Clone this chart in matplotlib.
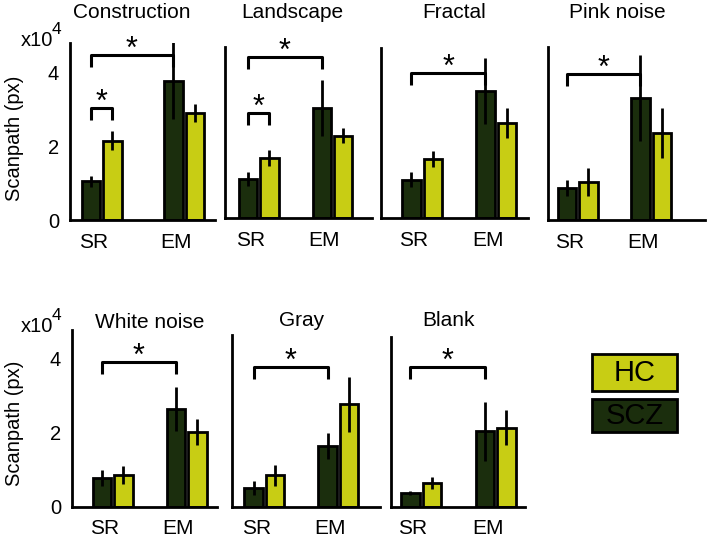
import matplotlib
matplotlib.use('Agg')
import matplotlib.pyplot as plt
from matplotlib.patches import Rectangle

plt.rcParams['font.family'] = ['Liberation Sans', 'DejaVu Sans']

W, H = 708, 538

# ---------------- data (units: x10^4 px) ----------------
titles = ['Construction', 'Landscape', 'Fractal', 'Pink noise',
          'White noise', 'Gray', 'Blank']
groups = ['SR', 'EM']
series = ['HC', 'SCZ']
scz_mean = [[1.05, 3.76], [1.05, 2.97], [1.03, 3.43], [0.86, 3.30],
            [0.78, 2.65], [0.51, 1.65], [0.38, 2.05]]
scz_err = [[0.15, 1.04], [0.18, 0.76], [0.20, 0.90], [0.22, 1.16],
           [0.22, 0.60], [0.18, 0.34], [0.06, 0.80]]
hc_mean = [[2.14, 2.89], [1.62, 2.22], [1.59, 2.57], [1.03, 2.35],
           [0.86, 2.03], [0.86, 2.78], [0.65, 2.14]]
hc_err = [[0.26, 0.24], [0.22, 0.20], [0.22, 0.40], [0.38, 0.68],
          [0.24, 0.36], [0.28, 0.74], [0.16, 0.47]]
# significance brackets: (type, level)  'group' = SR vs EM, 'pair' = SCZ vs HC in SR
sig = [[('group', 4.46), ('pair', 3.03)],
       [('group', 4.35), ('pair', 2.84)],
       [('group', 3.92)], [('group', 3.95)],
       [('group', 3.92)], [('group', 3.78)], [('group', 3.78)]]
yticks = [0, 2, 4]

C_SCZ = '#1b2e0d'
C_HC = '#c8cd14'

# ---------------- layout (pixels) ----------------
# left, top, right, baseline, SR centre px, EM centre px
layout = [(70, 43, 215, 220, 101.5, 184),
          (225, 47, 372, 218, 258.5, 332.5),
          (381, 48, 528, 218, 422, 496),
          (548, 47, 705, 220, 577.5, 651),
          (72, 330, 217, 507, 112.5, 186.5),
          (232, 335, 380, 507, 264.5, 338.5),
          (391, 337, 525, 507, 421, 495.5)]
title_pos = [(132, 12), (292, 12), (454, 12), (617, 12),
             (150, 322), (302, 321), (449, 321)]
YPX = 37.0     # pixels per 1e4
BAR_PX = 18.5
OFF_PX = 10.75
LBL_SHIFT = 8
LW = 2.0

fig = plt.figure(figsize=(W / 100, H / 100), dpi=100)


def box(l, t, r, b):
    return [l / W, 1 - b / H, (r - l) / W, (b - t) / H]


for i in range(7):
    l, t, r, b, srp, emp = layout[i]
    ax = fig.add_axes(box(l, t, r, b))
    ppu = emp - srp
    off = OFF_PX / ppu
    wid = BAR_PX / ppu
    xs = [0, 1]
    scz_x = [x - off for x in xs]
    hc_x = [x + off for x in xs]
    ax.bar(scz_x, scz_mean[i], width=wid, color=C_SCZ, edgecolor='black',
           linewidth=LW, zorder=2)
    ax.bar(hc_x, hc_mean[i], width=wid, color=C_HC, edgecolor='black',
           linewidth=LW, zorder=2)
    ax.errorbar(scz_x, scz_mean[i], yerr=scz_err[i], fmt='none',
                ecolor='black', elinewidth=LW, capsize=0, zorder=3)
    ax.errorbar(hc_x, hc_mean[i], yerr=hc_err[i], fmt='none',
                ecolor='black', elinewidth=LW, capsize=0, zorder=3)
    ax.set_xlim(-(srp - l) / ppu, (r - srp) / ppu)
    ax.set_ylim(0, (b - t) / YPX)
    for s in ['top', 'right']:
        ax.spines[s].set_visible(False)
    for s in ['left', 'bottom']:
        ax.spines[s].set_linewidth(LW)
    ax.set_xticks([x - LBL_SHIFT / ppu for x in xs])
    ax.set_xticklabels(groups, fontsize=15)
    ax.tick_params(axis='x', length=0, pad=9)
    if i in (0, 4):
        ax.set_yticks(yticks)
        ax.set_yticklabels([str(v) for v in yticks], fontsize=14.5)
        ax.tick_params(axis='y', length=0, pad=8)
    else:
        ax.set_yticks([])
    leg = 0.32
    for kind, lev in sig[i]:
        if kind == 'group':
            x0, x1 = scz_x[0], scz_x[1]
        else:
            x0, x1 = scz_x[0], hc_x[0]
        ax.plot([x0, x0, x1, x1], [lev - leg, lev, lev, lev - leg],
                color='black', lw=2.2, clip_on=False, zorder=4,
                solid_capstyle='butt')
        ax.text((x0 + x1) / 2, lev - 0.27, '*', ha='center', va='bottom',
                fontsize=22, clip_on=False)
    tx, ty = title_pos[i]
    fig.text(tx / W, 1 - ty / H, titles[i], ha='center', va='center',
             fontsize=15)

# y labels and multipliers
for yc, my in [(138, 41), (423, 327)]:
    fig.text(14 / W, 1 - yc / H, 'Scanpath (px)', rotation=90,
             ha='center', va='center', fontsize=14.5)
    fig.text(21 / W, 1 - my / H, 'x10', ha='left', va='center', fontsize=14.5)
    fig.text(52 / W, 1 - (my - 11) / H, '4', ha='left', va='center', fontsize=12.5)

# legend
lax = fig.add_axes(box(585, 345, 690, 440))
lax.set_xlim(585, 690)
lax.set_ylim(440, 345)
lax.axis('off')
for name, col, (y0, y1) in [(series[0], C_HC, (354, 391)),
                            (series[1], C_SCZ, (399, 432))]:
    lax.add_patch(Rectangle((592, y0), 85, y1 - y0, facecolor=col,
                            edgecolor='black', linewidth=LW))
    lax.text(634.5, (y0 + y1) / 2 + 1, name, ha='center', va='center',
             fontsize=21, color='black')

fig.savefig('out.png', dpi=100)
